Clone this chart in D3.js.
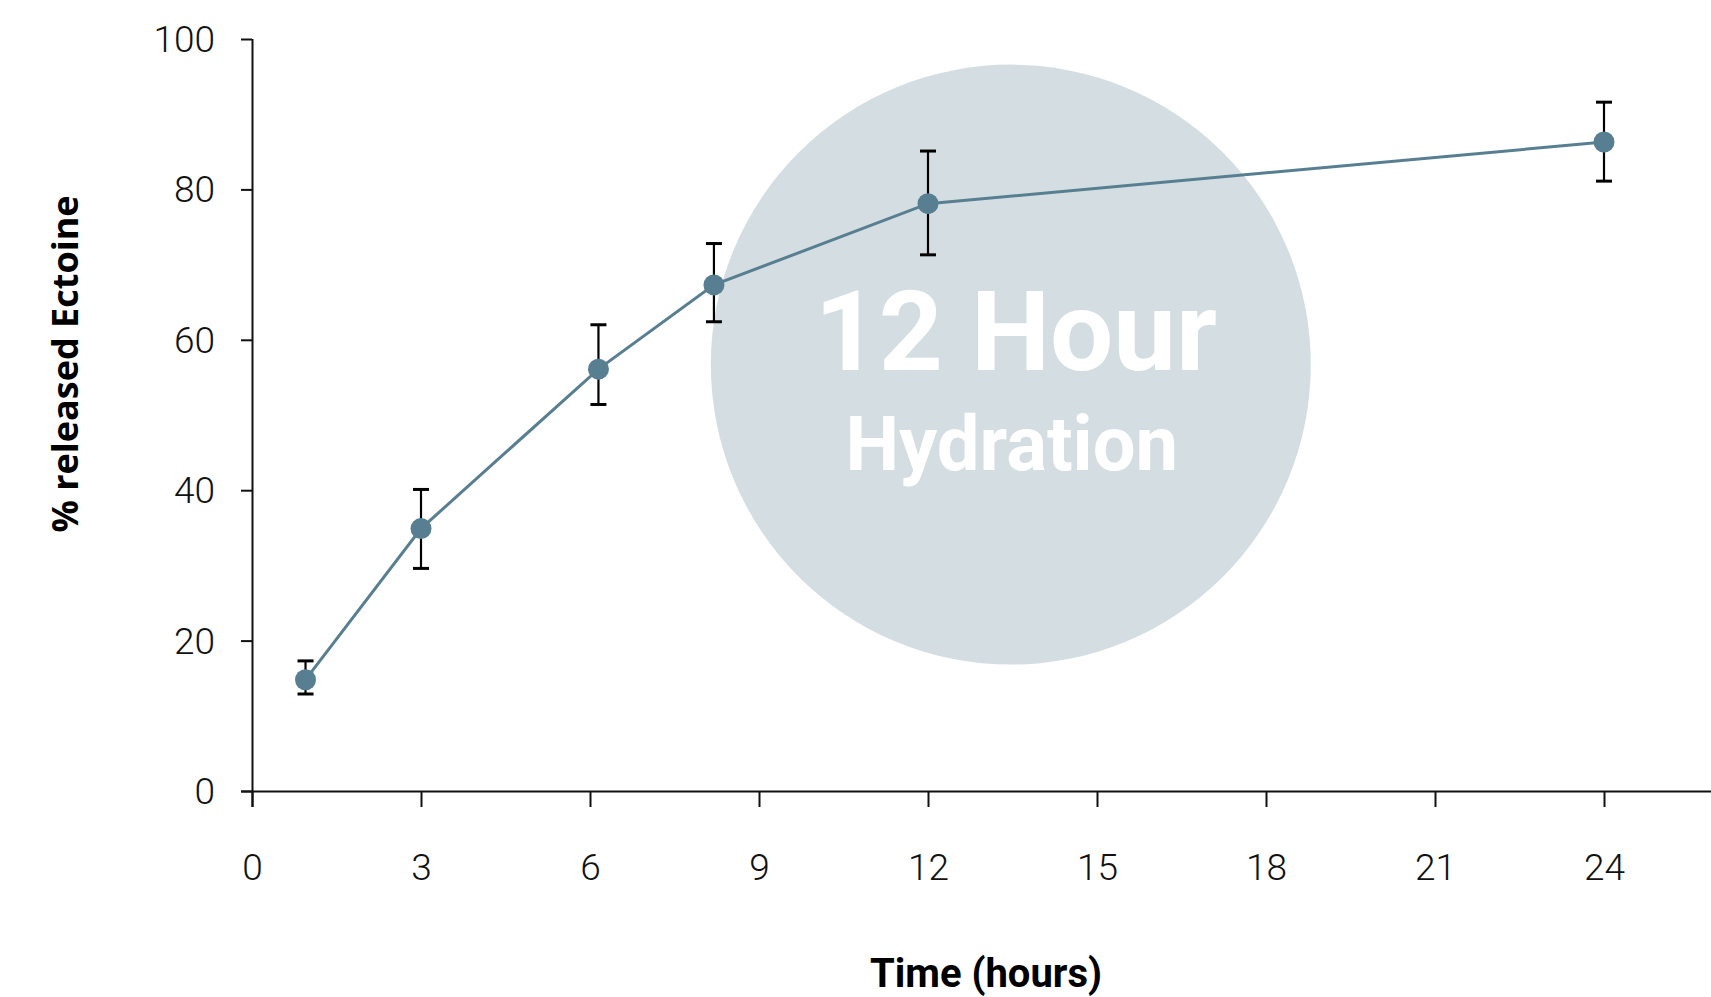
<!DOCTYPE html>
<html>
<head>
<meta charset="utf-8">
<script src="https://cdn.jsdelivr.net/npm/d3@7"></script>
<style>
  html, body { margin: 0; padding: 0; background: #ffffff; }
  svg { display: block; }
</style>
</head>
<body>
<svg id="chart" width="1711" height="997"></svg>
<script>
// ---- data ----
const hours = [0.95, 3, 6.15, 8.2, 12, 24];
const released = [14.8, 34.9, 56.1, 67.3, 78.1, 86.3];
const errUpper = [17.3, 40.1, 62.0, 72.8, 85.1, 91.6];
const errLower = [12.9, 29.6, 51.4, 62.4, 71.3, 81.1];
const xTicks = [0, 3, 6, 9, 12, 15, 18, 21, 24];
const yTicks = [0, 20, 40, 60, 80, 100];
const badgeLine1 = "12 Hour";
const badgeLine2 = "Hydration";
const badgeCenter = [13.47, 56.7]; // hours, %
const xTitle = "Time (hours)";
const yTitle = "% released Ectoine";

// ---- layout ----
const svg = d3.select("#chart");
const x = d3.scaleLinear().domain([0, 24]).range([252, 1604]);
const y = d3.scaleLinear().domain([0, 100]).range([791, 39]);

const lineColor = "#587f91";
const axisColor = "#111111";
const tickFont = "Roboto, 'Noto Sans', sans-serif";

// badge circle
svg.append("circle")
  .attr("cx", x(badgeCenter[0]))
  .attr("cy", y(badgeCenter[1]))
  .attr("r", 300)
  .attr("fill", "#d4dee2");

svg.append("text")
  .attr("x", x(badgeCenter[0]) + 5)
  .attr("y", 370)
  .attr("text-anchor", "middle")
  .attr("font-family", "Roboto, sans-serif")
  .attr("font-weight", 700)
  .attr("font-size", 112)
  .attr("fill", "#ffffff")
  .text(badgeLine1);

svg.append("text")
  .attr("x", x(badgeCenter[0]) + 1)
  .attr("y", 470)
  .attr("text-anchor", "middle")
  .attr("font-family", "Roboto, sans-serif")
  .attr("font-weight", 700)
  .attr("font-size", 76)
  .attr("fill", "#ffffff")
  .text(badgeLine2);

// axes
const xAxis = d3.axisBottom(x).tickValues(xTicks).tickSize(16).tickPadding(47).tickSizeOuter(0);
const gx = svg.append("g").attr("transform", `translate(0,${y(0)})`).call(xAxis);
gx.select(".domain").attr("d", `M${x(0) - 11},0.5H1711`);

const yAxis = d3.axisLeft(y).tickValues(yTicks).tickSize(11).tickPadding(26).tickSizeOuter(0);
const gy = svg.append("g").attr("transform", `translate(${x(0)},0)`).call(yAxis);
gy.select(".domain").attr("d", `M0.5,${y(100)}V${y(0) + 16}`);

[gx, gy].forEach(g => {
  g.selectAll("path, line").attr("stroke", axisColor).attr("stroke-width", 2);
  g.selectAll("text")
    .attr("font-family", tickFont)
    .attr("font-weight", 300)
    .attr("font-size", 37)
    .attr("fill", "#111111");
});
gy.selectAll("text").attr("dy", "0.34em");

// axis titles
svg.append("text")
  .attr("x", 986)
  .attr("y", 987)
  .attr("text-anchor", "middle")
  .attr("font-family", "Roboto, sans-serif")
  .attr("font-weight", 700)
  .attr("font-size", 40)
  .attr("fill", "#000000")
  .text(xTitle);

svg.append("text")
  .attr("transform", `translate(78,364) rotate(-90)`)
  .attr("text-anchor", "middle")
  .attr("font-family", "'Open Sans', sans-serif")
  .attr("font-weight", 700)
  .attr("font-size", 36)
  .attr("fill", "#000000")
  .text(yTitle);

// data line
const pts = hours.map((h, i) => ({ h, v: released[i], lo: errLower[i], hi: errUpper[i] }));

svg.append("path")
  .datum(pts)
  .attr("fill", "none")
  .attr("stroke", lineColor)
  .attr("stroke-width", 3)
  .attr("d", d3.line().x(d => x(d.h)).y(d => y(d.v)));

// error bars
const eb = svg.append("g").attr("stroke", "#000000").attr("stroke-width", 2.2);
pts.forEach(d => {
  const cx = x(d.h);
  eb.append("line").attr("x1", cx).attr("x2", cx).attr("y1", y(d.hi)).attr("y2", y(d.lo));
  eb.append("line").attr("x1", cx - 8).attr("x2", cx + 8).attr("y1", y(d.hi)).attr("y2", y(d.hi)).attr("stroke-width", 3);
  eb.append("line").attr("x1", cx - 8).attr("x2", cx + 8).attr("y1", y(d.lo)).attr("y2", y(d.lo)).attr("stroke-width", 3);
});

// markers
svg.append("g").selectAll("circle").data(pts).join("circle")
  .attr("cx", d => x(d.h))
  .attr("cy", d => y(d.v))
  .attr("r", 10.5)
  .attr("fill", lineColor);
</script>
</body>
</html>
